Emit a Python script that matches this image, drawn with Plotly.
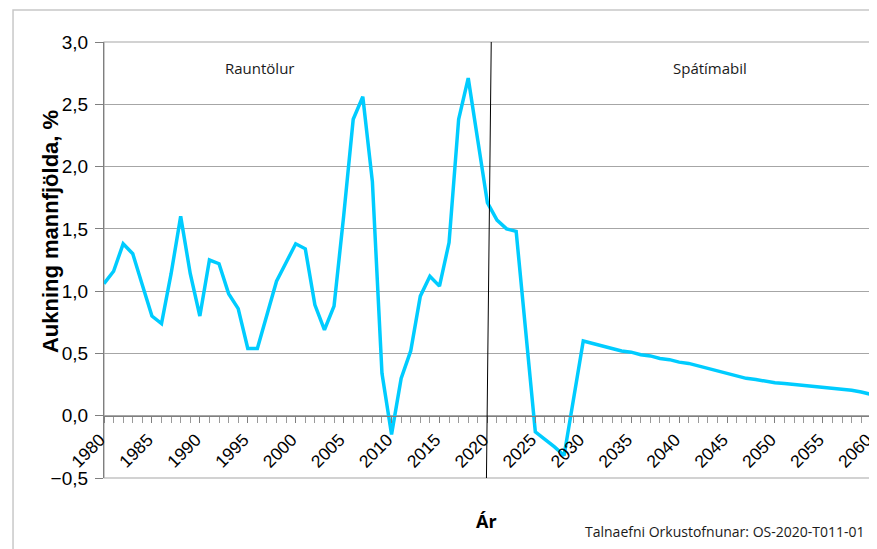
import plotly.graph_objects as go

# Árleg fólksfjölgun, % (rauntölur 1980-2019, spá 2020-2060)
years = list(range(1980, 2061))
growth = [
    1.06, 1.16, 1.38, 1.30, 1.05, 0.80, 0.74, 1.14, 1.60, 1.14,  # 1980-1989
    0.80, 1.25, 1.22, 0.98, 0.86, 0.54, 0.54, 0.82, 1.08, 1.23,  # 1990-1999
    1.38, 1.34, 0.89, 0.69, 0.88, 1.60, 2.38, 2.56, 1.88, 0.34,  # 2000-2009
    -0.15, 0.30, 0.52, 0.96, 1.12, 1.04, 1.39, 2.38, 2.71, 2.21,  # 2010-2019
    1.71, 1.57, 1.50, 1.48, 0.68, -0.13, -0.19, -0.25, -0.32, 0.12,  # 2020-2029
    0.60, 0.58, 0.56, 0.54, 0.52, 0.51, 0.49, 0.48, 0.46, 0.45,  # 2030-2039
    0.43, 0.42, 0.40, 0.38, 0.36, 0.34, 0.32, 0.30, 0.29, 0.275,  # 2040-2049
    0.265, 0.258, 0.25, 0.245, 0.24, 0.233, 0.225, 0.215, 0.205, 0.19,  # 2050-2059
    0.172,  # 2060
]

x_ticks = list(range(1980, 2061, 5))
y_ticks = [-0.5, 0.0, 0.5, 1.0, 1.5, 2.0, 2.5, 3.0]
period_labels = ["Rauntölur", "Spátímabil"]
period_label_x = [1996.2, 2043.2]

y_min, y_max = -0.5, 3.0

fig = go.Figure(
    go.Scatter(
        x=years,
        y=growth,
        mode="lines",
        line=dict(color="#00ccff", width=3.5),
        hoverinfo="x+y",
    )
)

# síðan hefur 8px spássíu, því er myndin 8px minni
fig.update_layout(
    width=869,
    height=541,
    margin=dict(l=96, r=6, t=34, b=71, autoexpand=False),
    paper_bgcolor="white",
    plot_bgcolor="white",
    separators=", ",
    showlegend=False,
    font=dict(family="Liberation Sans, Arial, sans-serif", color="black"),
)

fig.update_xaxes(
    range=[1980, 2060.02],
    anchor="free",
    position=(0 - y_min) / (y_max - y_min),
    automargin=False,
    showgrid=False,
    zeroline=False,
    showline=True,
    linecolor="#7f7f7f",
    linewidth=1,
    ticks="outside",
    ticklen=6,
    tickcolor="#7f7f7f",
    tickmode="array",
    tickvals=x_ticks,
    tickangle=-45,
    tickfont=dict(size=17.5),
    ticklabeloverflow="allow",
    ticklabelshift=-4,
    minor=dict(dtick=1, tick0=1980, ticks="outside", ticklen=6, tickcolor="#9a9a9a"),
)

fig.update_yaxes(
    range=[y_min, y_max],
    automargin=False,
    tickvals=y_ticks,
    tickformat=".1f",
    showgrid=True,
    gridcolor="#a6a6a6",
    gridwidth=1,
    zeroline=False,
    showline=True,
    linecolor="#7f7f7f",
    linewidth=1.2,
    ticks="outside",
    ticklen=8,
    tickcolor="#7f7f7f",
    tickfont=dict(size=19),
    ticklabelstandoff=3,
)

# ramminn utan um gröfin og skil rauntalna og spár
fig.add_shape(type="rect", xref="paper", yref="paper", x0=-0.1186, x1=1.03,
              y0=-0.3, y1=1.0734, line=dict(color="#c8c8c8", width=1.5), layer="below")
fig.add_shape(type="rect", xref="x domain", yref="y domain", x0=0, x1=1, y0=0, y1=1,
              line=dict(color="#a6a6a6", width=1.2), layer="below")
fig.add_shape(type="line", xref="x", yref="y", x0=2019.9, x1=2020.4, y0=y_min, y1=y_max,
              line=dict(color="black", width=1))

for label, lx in zip(period_labels, period_label_x):
    fig.add_annotation(x=lx, y=2.79, xref="x", yref="y", text=label, showarrow=False,
                       font=dict(family="Open Sans, sans-serif", size=15, color="#1a1a1a"))

fig.add_annotation(x=-0.0704, y=0.564, xref="paper", yref="paper", textangle=-90,
                   xanchor="center", yanchor="middle",
                   text="<b>Aukning mannfjölda, %</b>", showarrow=False,
                   font=dict(size=22))
fig.add_annotation(x=0.4993, y=-0.0986, xref="paper", yref="paper", text="<b>Ár</b>",
                   xanchor="center", yanchor="middle",
                   showarrow=False, font=dict(family="Open Sans, sans-serif", size=18))
fig.add_annotation(x=0.9935, y=-0.1216, xref="paper", yref="paper", xanchor="right",
                   yanchor="middle",
                   text="Talnaefni Orkustofnunar: OS-2020-T011-01", showarrow=False,
                   font=dict(family="Open Sans, sans-serif", size=14, color="#1a1a1a"))

fig.write_html("out.html")
